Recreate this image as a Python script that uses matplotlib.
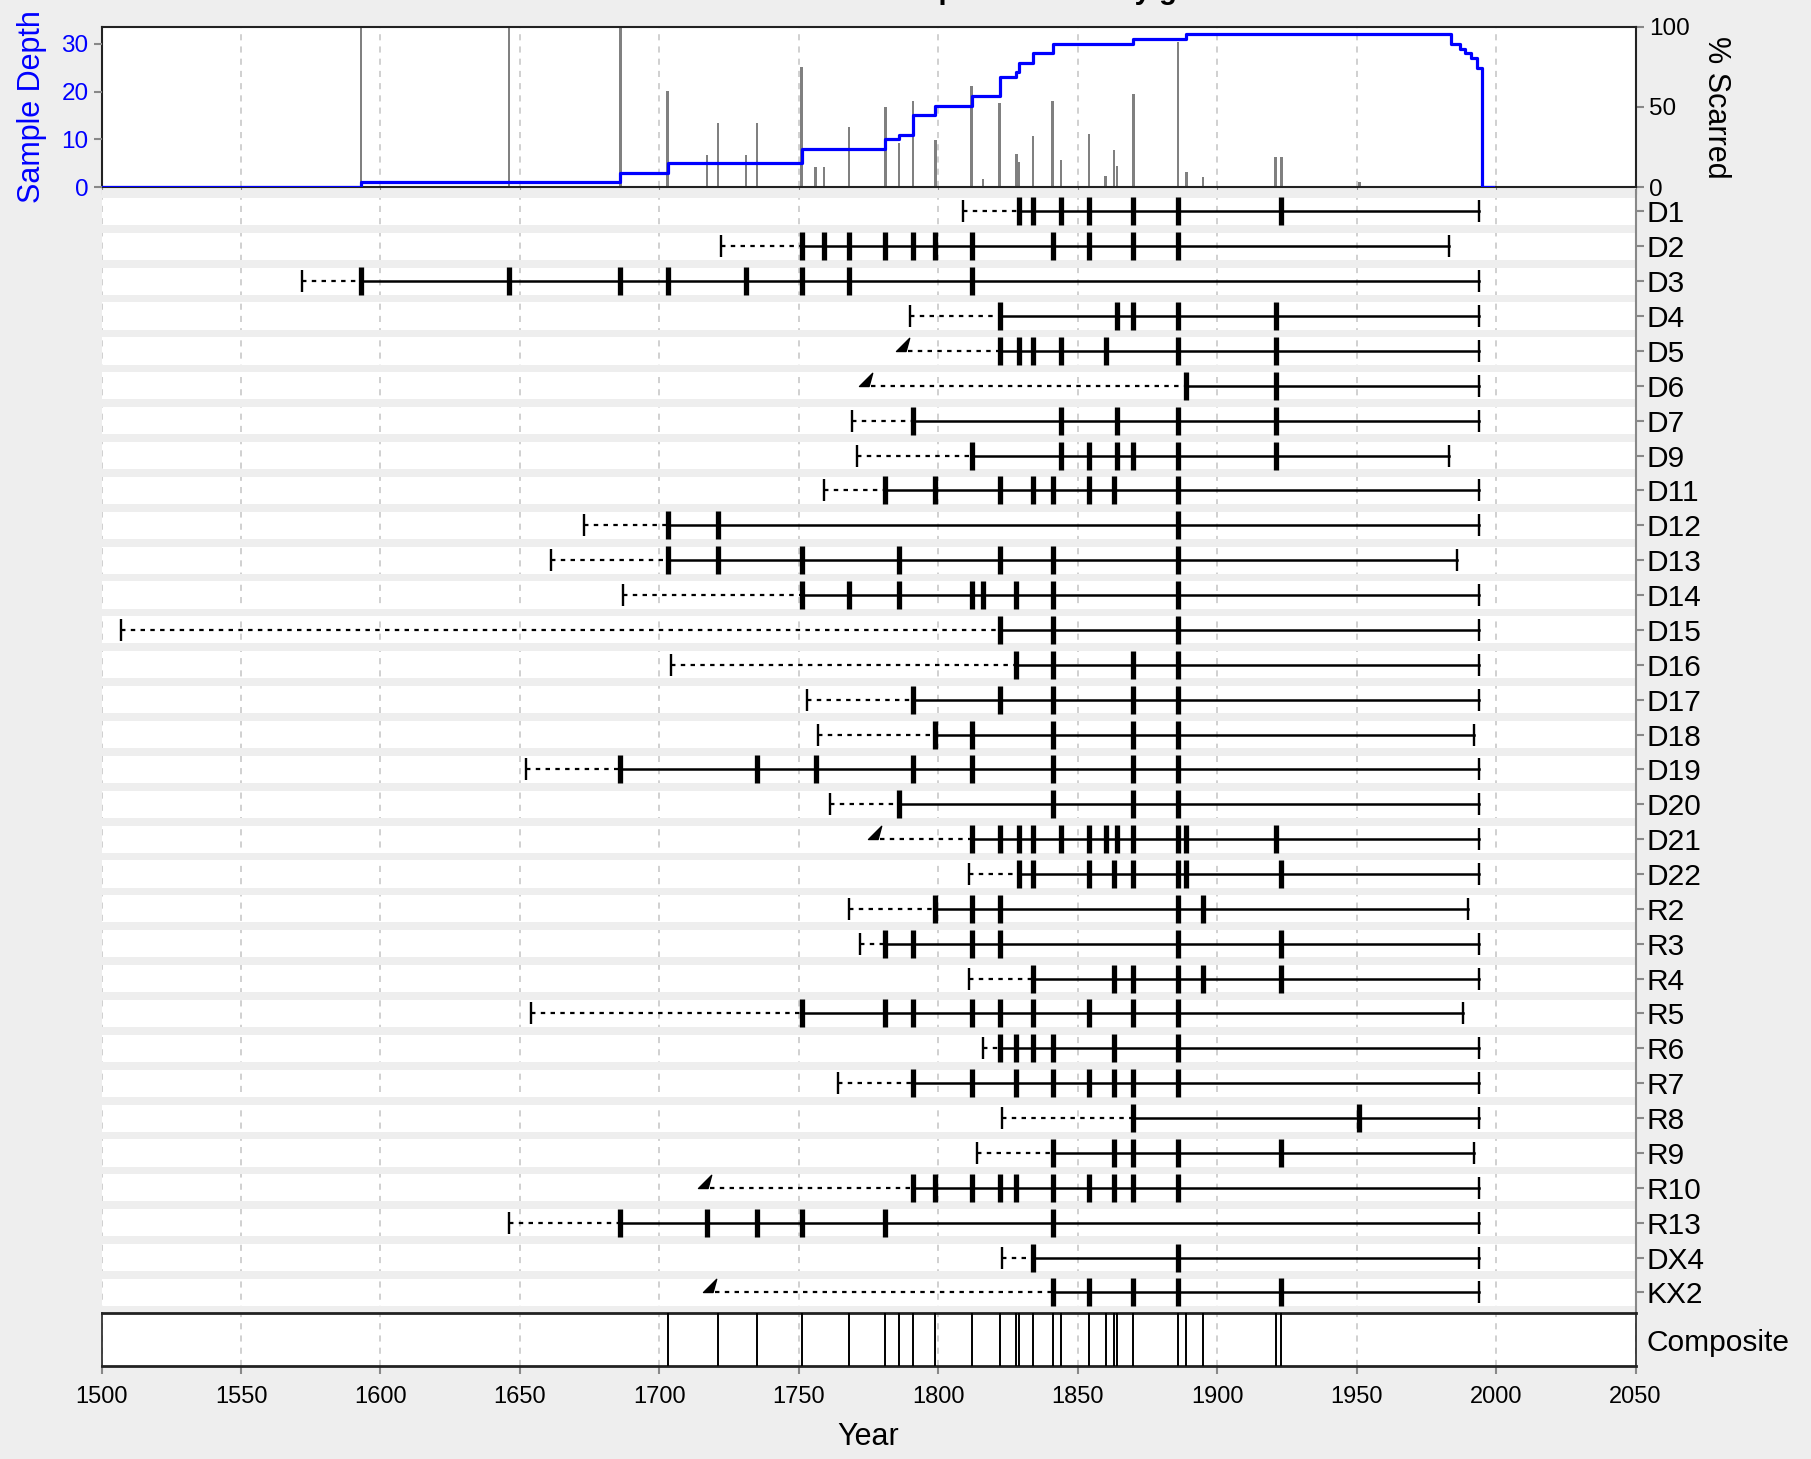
import numpy as np
import matplotlib.pyplot as plt
from matplotlib.path import Path

plt.rcParams['font.family'] = ['Liberation Sans', 'DejaVu Sans']

# series (top to bottom)
series = ["D1", "D2", "D3", "D4", "D5", "D6", "D7", "D9", "D11", "D12", "D13",
          "D14", "D15", "D16", "D17", "D18", "D19", "D20", "D21", "D22", "R2",
          "R3", "R4", "R5", "R6", "R7", "R8", "R9", "R10", "R13", "DX4", "KX2"]
inner = [1809, 1722, 1572, 1790, 1789, 1776, 1769, 1771, 1759, 1673, 1661,
         1687, 1507, 1704, 1753, 1757, 1652, 1761, 1779, 1811, 1768,
         1772, 1811, 1654, 1816, 1764, 1823, 1814, 1718, 1646, 1823, 1720]
outer = [1994, 1983, 1994, 1994, 1994, 1994, 1994, 1983, 1994, 1994, 1986,
         1994, 1994, 1994, 1994, 1992, 1994, 1994, 1994, 1994, 1990,
         1994, 1994, 1988, 1994, 1994, 1994, 1992, 1994, 1994, 1994, 1994]
no_pith = ["D5", "D6", "D21", "R10", "KX2"]
scars = [
    [1829, 1834, 1844, 1854, 1870, 1886, 1923],
    [1751, 1759, 1768, 1781, 1791, 1799, 1812, 1841, 1854, 1870, 1886],
    [1593, 1646, 1686, 1703, 1731, 1751, 1768, 1812],
    [1822, 1864, 1870, 1886, 1921],
    [1822, 1829, 1834, 1844, 1860, 1886, 1921],
    [1889, 1921],
    [1791, 1844, 1864, 1886, 1921],
    [1812, 1844, 1854, 1864, 1870, 1886, 1921],
    [1781, 1799, 1822, 1834, 1841, 1854, 1863, 1886],
    [1703, 1721, 1886],
    [1703, 1721, 1751, 1786, 1822, 1841, 1886],
    [1751, 1768, 1786, 1812, 1816, 1828, 1841, 1886],
    [1822, 1841, 1886],
    [1828, 1841, 1870, 1886],
    [1791, 1822, 1841, 1870, 1886],
    [1799, 1812, 1841, 1870, 1886],
    [1686, 1735, 1756, 1791, 1812, 1841, 1870, 1886],
    [1786, 1841, 1870, 1886],
    [1812, 1822, 1829, 1834, 1844, 1854, 1860, 1864, 1870, 1886, 1889, 1921],
    [1829, 1834, 1854, 1863, 1870, 1886, 1889, 1923],
    [1799, 1812, 1822, 1886, 1895],
    [1781, 1791, 1812, 1822, 1886, 1923],
    [1834, 1863, 1870, 1886, 1895, 1923],
    [1751, 1781, 1791, 1812, 1822, 1834, 1854, 1870, 1886],
    [1822, 1828, 1834, 1841, 1863, 1886],
    [1791, 1812, 1828, 1841, 1854, 1863, 1870, 1886],
    [1870, 1951],
    [1841, 1863, 1870, 1886, 1923],
    [1791, 1799, 1812, 1822, 1828, 1841, 1854, 1863, 1870, 1886],
    [1686, 1717, 1735, 1751, 1781, 1841],
    [1834, 1886],
    [1841, 1854, 1870, 1886, 1923],
]
composite_years = [1703, 1721, 1735, 1751, 1768, 1781, 1786, 1791, 1799, 1812,
                   1822, 1828, 1829, 1834, 1841, 1844, 1854, 1860, 1863, 1864,
                   1870, 1886, 1889, 1895, 1921, 1923]
xticks = list(range(1500, 2051, 50))

# sample depth (recording trees) and percent scarred per year
years = np.arange(1500, 2000)
depth = np.zeros(len(years))
nscar = np.zeros(len(years))
for s, o in zip(scars, outer):
    depth += (years >= min(s)) & (years <= o)
    for y in s:
        nscar[years == y] += 1
pct = nscar / np.maximum(depth, 1) * 100
hit = nscar > 0

W, H = 1811, 1459
def box(x0, y0, x1, y1):
    return [x0 / W, 1 - y1 / H, (x1 - x0) / W, (y1 - y0) / H]

BG = '#eeeeee'
GRID = dict(color='#c4c4c4', lw=1.1, ls=(0, (4, 4)))
fig = plt.figure(figsize=(18.11, 14.59), dpi=100, facecolor=BG)

# ---- top panel: % scarred bars + sample depth ----
ax_top = fig.add_axes(box(101.6, 26.6, 1635.5, 187.1))
ax_dep = ax_top.twinx()

ax_top.bar(years[hit], pct[hit], width=0.9, color='#808080', zorder=2)
ax_top.set_ylim(0, 100)
ax_top.set_yticks([0, 50, 100])
ax_top.yaxis.tick_right()
ax_top.yaxis.set_label_position('right')
ax_top.set_ylabel('% Scarred', fontsize=22, rotation=270, labelpad=30)
ax_top.tick_params(axis='y', labelsize=17.5, color='#888888', length=6, width=1.5)
ax_top.tick_params(axis='x', labelbottom=False, color='#888888', length=5)
ax_top.set_xticks(xticks)
ax_top.grid(axis='x', **GRID)
ax_top.set_axisbelow(True)
for sp in ax_top.spines.values():
    sp.set_linewidth(1.5)
    sp.set_color('#222222')

ax_dep.step(years, depth, where='post', color='blue', lw=2.3)
ax_dep.set_ylim(0, 33.6)
ax_dep.set_yticks([0, 10, 20, 30])
ax_dep.yaxis.tick_left()
ax_dep.yaxis.set_label_position('left')
ax_dep.set_ylabel('Sample Depth', fontsize=22, color='blue', labelpad=10)
ax_dep.tick_params(axis='y', labelsize=17.5, labelcolor='blue', color='#888888',
                   length=6, width=1.5)
for sp in ax_dep.spines.values():
    sp.set_visible(False)
ax_top.set_xlim(1500, 2050)

# title sits above the top edge, only its descenders show
fig.text(877 / W, 1.0004, 'Sample Fire History grid', fontsize=21,
         fontweight='bold', ha='left', va='baseline')

# ---- series panel ----
n = len(series)
ax_ser = fig.add_axes(box(101.6, 190, 1635.5, 1312))
ax_ser.set_facecolor('white')
for i in range(n + 1):
    ax_ser.axhspan(i - 0.61, i - 0.39, color=BG, lw=0, zorder=1)

tri = Path([(-1.0, 0.0), (-0.2, 0.0), (0.1, 1.1), (-1.0, 0.0)],
           [Path.MOVETO, Path.LINETO, Path.LINETO, Path.CLOSEPOLY])

for i, (name, iy, oy, s) in enumerate(zip(series, inner, outer, scars)):
    first = min(s)
    ax_ser.plot([iy, first], [i, i], color='black', lw=1.6,
                ls=(0, (2, 2.4)), zorder=3)
    ax_ser.plot([first, oy], [i, i], color='black', lw=1.8, zorder=3)
    ax_ser.plot(s, [i] * len(s), ls='none', marker='|', ms=19.5, mew=3.8,
                color='black', zorder=4)
    if name in no_pith:
        ax_ser.plot([iy], [i], ls='none', marker=tri, ms=19, color='black',
                    zorder=4)
    else:
        ax_ser.plot([iy], [i], ls='none', marker='|', ms=16, mew=1.7,
                    color='black', zorder=4)
    ax_ser.plot([oy], [i], ls='none', marker='|', ms=16, mew=1.7,
                color='black', zorder=4)

ax_ser.set_xlim(1500, 2050)
ax_ser.set_ylim(n - 1 + 0.56, -0.614)
ax_ser.set_xticks(xticks)
ax_ser.grid(axis='x', **GRID)
ax_ser.set_axisbelow(True)
ax_ser.yaxis.tick_right()
ax_ser.set_yticks(range(n))
ax_ser.set_yticklabels(series)
ax_ser.tick_params(axis='y', labelsize=21.5, color='#888888', length=6,
                   width=1.5, pad=2)
ax_ser.tick_params(axis='x', bottom=False, labelbottom=False)
for k in ['top', 'left', 'bottom']:
    ax_ser.spines[k].set_visible(False)
ax_ser.spines['right'].set_color('#888888')
ax_ser.spines['right'].set_linewidth(1.5)

# ---- composite panel ----
ax_comp = fig.add_axes(box(101.6, 1313, 1635.5, 1366.4))
ax_comp.vlines(composite_years, 0, 1, color='black', lw=1.4, zorder=3)
ax_comp.set_xlim(1500, 2050)
ax_comp.set_ylim(0, 1)
ax_comp.set_xticks(xticks)
ax_comp.grid(axis='x', **GRID)
ax_comp.set_axisbelow(True)
ax_comp.yaxis.tick_right()
ax_comp.set_yticks([0.5])
ax_comp.set_yticklabels(['Composite'])
ax_comp.tick_params(axis='y', labelsize=21.5, length=0, pad=8)
ax_comp.tick_params(axis='x', labelsize=17, color='#888888', length=6,
                    width=1.5, pad=8)
ax_comp.set_xlabel('Year', fontsize=22, labelpad=10)
for sp in ax_comp.spines.values():
    sp.set_color('#222222')
    sp.set_linewidth(1.2)
ax_comp.spines['top'].set_linewidth(2)
ax_comp.spines['bottom'].set_linewidth(2)

fig.savefig('out.png', dpi=100, facecolor=BG)
